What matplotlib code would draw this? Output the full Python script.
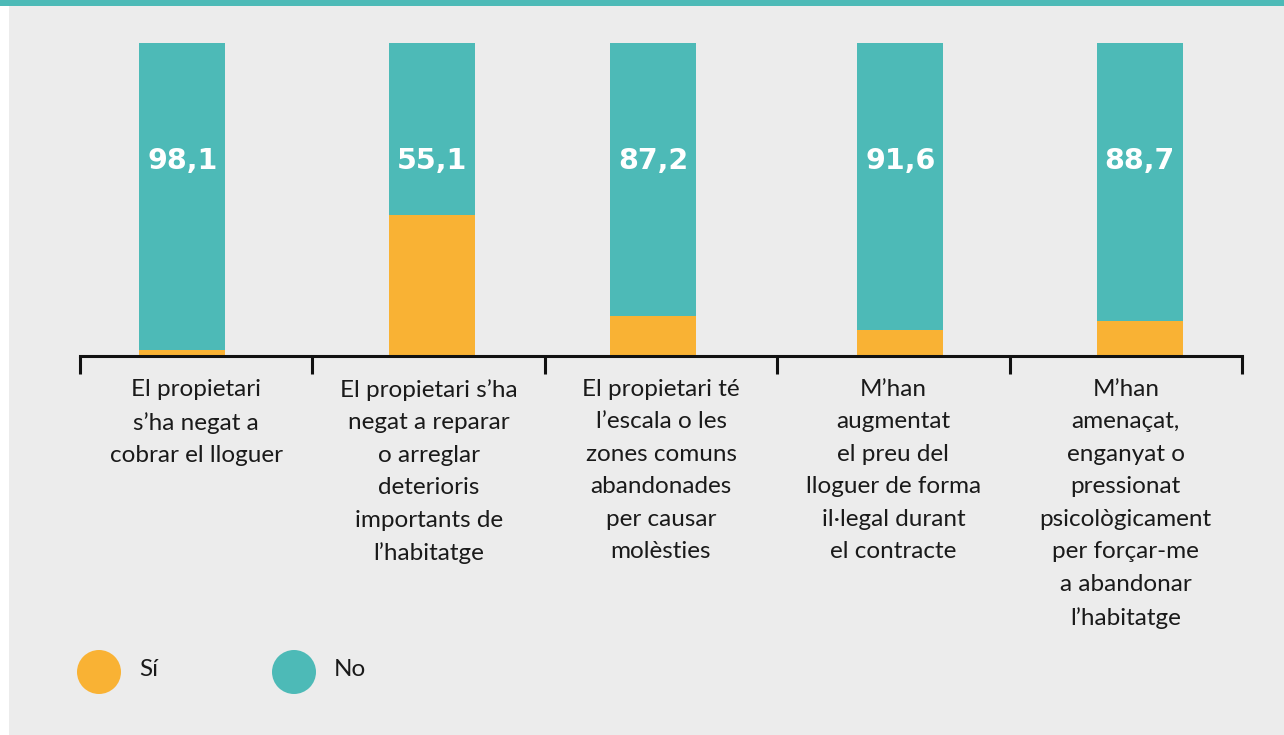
import matplotlib
matplotlib.use("Agg")
import matplotlib.pyplot as plt
from matplotlib.patches import Rectangle, Ellipse
import numpy as np

# Data
categories = [
    "El propietari\ns\u2019ha negat a\ncobrar el lloguer",
    "El propietari s\u2019ha\nnegat a reparar\no arreglar\ndeterioris\nimportants de\nl\u2019habitatge",
    "El propietari t\u00e9\nl\u2019escala o les\nzones comuns\nabandonades\nper causar\nmol\u00e8sties",
    "M\u2019han\naugmentat\nel preu del\nlloguer de forma\nil\u00b7legal durant\nel contracte",
    "M\u2019han\namena\u00e7at,\nenganyat o\npressionat\npsicol\u00f2gicament\nper for\u00e7ar-me\na abandonar\nl\u2019habitatge",
]
no_values = [98.1, 55.1, 87.2, 91.6, 88.7]
si_values = [1.9, 44.9, 12.8, 8.4, 11.3]
series_names = ["S\u00ed", "No"]

orange = "#f9b234"
teal = "#4dbab7"
bg = "#ececec"

plt.rcParams["font.family"] = ["Lato", "DejaVu Sans"]

W, H = 1284, 735
fig = plt.figure(figsize=(W / 100, H / 100), dpi=100)
fig.patch.set_facecolor(bg)

# white strip left, teal band on top
fig.patches.append(Rectangle((0, 0), 9 / W, 1, transform=fig.transFigure,
                             facecolor="white", edgecolor="none", zorder=0))
fig.patches.append(Rectangle((0, 1 - 6 / H), 1, 6 / H, transform=fig.transFigure,
                             facecolor=teal, edgecolor="none", zorder=0))

ax = fig.add_axes([80 / W, (H - 356) / H, (1242 - 80) / W, 313 / H])
ax.set_facecolor("none")

# bars sit a little off the category centres in the original
slot = (1242 - 80) / 5
bar_shift = np.array([-14, 3, -8, 7, 14]) / slot
x = np.arange(len(categories))
bar_w = 86 / slot
ax.bar(x + bar_shift, si_values, width=bar_w, color=orange, zorder=2)
ax.bar(x + bar_shift, no_values, width=bar_w, bottom=si_values, color=teal, zorder=2)

for xi, v in zip(x + bar_shift, no_values):
    ax.text(xi, 62.3, f"{v:.1f}".replace(".", ","), ha="center", va="center",
            color="white", fontsize=20.5, fontweight="bold", family="DejaVu Sans",
            zorder=3)

ax.set_xlim(-0.5, len(categories) - 0.5)
ax.set_ylim(0, 100)
for s in ["top", "right", "left"]:
    ax.spines[s].set_visible(False)
ax.spines["bottom"].set_linewidth(2.2)
ax.spines["bottom"].set_color("#111111")
ax.set_yticks([])
ax.set_xticks(np.arange(-0.5, len(categories), 1.0))
ax.set_xticklabels([])
ax.tick_params(axis="x", length=13, width=2.2, color="#111111", direction="out")

for xi, lab in zip(x, categories):
    ax.text(xi, -7.3, lab, ha="center", va="top", fontsize=17.5,
            color="#1a1a1a", linespacing=1.675, zorder=3)

# legend
colors = [orange, teal]
cx = [99, 294]
for c, px, name in zip(colors, cx, series_names):
    fig.patches.append(Ellipse((px / W, (H - 672) / H), 44 / W, 44 / H,
                               transform=fig.transFigure,
                               facecolor=c, edgecolor="none"))
    fig.text((px + 40) / W, (H - 670) / H, name, ha="left", va="center",
             fontsize=17.5, color="#1a1a1a")

fig.savefig("out.png", dpi=100, facecolor=fig.get_facecolor())
